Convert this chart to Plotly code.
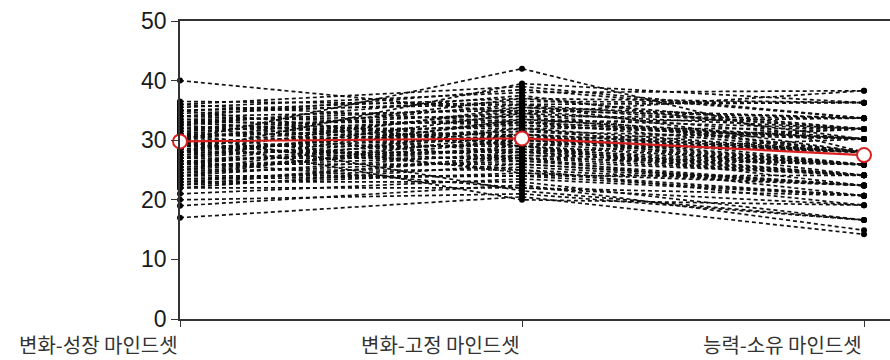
import plotly.graph_objects as go

# Mindset profile scores per respondent (three subscales) and the group mean
categories = ["변화-성장 마인드셋", "변화-고정 마인드셋", "능력-소유 마인드셋"]

growth = [40, 36.5, 36, 35.5, 35, 34.5, 34, 34, 33.5, 33, 33, 32.5, 32, 32, 31.5,
          31, 31, 30.5, 30, 30, 29.5, 29, 29, 28.5, 28, 28, 27.5, 27, 27, 26.5,
          26, 26, 25.5, 25, 25, 24.5, 24, 24, 23.5, 23, 23, 22.5, 22, 22, 21,
          20, 19, 17, 30, 29, 31, 28, 33, 26, 24, 35,
          34, 33.5, 32.5, 31.5, 30.5, 29.5, 28.5, 27.5, 26.5, 25.5, 24.5, 23.5,
          35, 32, 30, 28, 26, 36, 29, 27, 31, 25, 33, 22.5]
fixed = [34.5, 36, 39, 38, 37, 36.5, 35, 38.5, 34, 35.5, 33, 37.5, 32, 34.5, 33.5,
         31, 36, 32.5, 30, 42, 31.5, 29, 33, 30.5, 28, 32, 29.5, 27, 31, 28.5,
         26, 30, 27.5, 25, 29, 26.5, 24, 28, 25.5, 23, 27, 24.5, 22, 26, 23.5,
         21, 22.5, 20.5, 20, 35, 21.5, 39.5, 30, 33.5, 31, 29,
         32.5, 30.5, 29, 27, 34, 25, 31.5, 33, 22, 28.5, 30, 24,
         36, 28, 37, 35.5, 31, 33, 26.5, 34.5, 24.5, 32, 29.5, 27.5]
entity = [38.3, 36.3, 33.7, 38.3, 31.9, 36.3, 30.2, 33.7, 28, 31.9, 33.7, 30.2, 25.9, 28, 31.9,
          24.1, 28, 30.2, 25.9, 28, 30.2, 22.4, 28, 25.9, 24.1, 31.9, 28, 20.7, 25.9, 24.1,
          22.4, 28, 25.9, 19.1, 24.1, 22.4, 20.7, 25.9, 22.4, 16.6, 24.1, 20.7, 19.1, 22.4, 20.7,
          16.6, 14.9, 14.2, 19.1, 33.7, 16.6, 36.3, 31.9, 30.2, 28, 25.9,
          30.2, 28, 31.9, 25.9, 33.7, 22.4, 28, 30.2, 20.7, 25.9, 28, 24.1,
          31.9, 30.2, 36.3, 33.7, 28, 30.2, 24.1, 31.9, 22.4, 28, 25.9, 24.1]
group_mean = [29.8, 30.3, 27.5]

y_ticks = [0, 10, 20, 30, 40, 50]

positions = list(range(len(categories)))

# individual profiles joined into one dashed trace, broken with None
xs, ys = [], []
for a, b, c in zip(growth, fixed, entity):
    xs += positions + [None]
    ys += [a, b, c, None]

fig = go.Figure()
fig.add_trace(go.Scatter(
    x=xs, y=ys, mode="lines+markers",
    line=dict(color="#111111", width=1.7, dash="4px,3px"),
    marker=dict(color="#000000", size=6),
    cliponaxis=False, hoverinfo="skip", showlegend=False,
))
fig.add_trace(go.Scatter(
    x=positions, y=group_mean, mode="lines+markers",
    line=dict(color="#d92020", width=2.2),
    marker=dict(symbol="circle", size=14, color="white",
                line=dict(color="#d92020", width=2)),
    cliponaxis=False, showlegend=False,
))

# category labels sit right-aligned at their ticks
for p, name in zip(positions, categories):
    fig.add_annotation(
        x=p, xref="x", y=0, yref="paper", yshift=-9,
        text=name, showarrow=False, xanchor="right", yanchor="top",
        font=dict(family="Noto Sans CJK KR", size=20, color="#333333"),
    )

fig.update_layout(
    width=890, height=360,
    margin=dict(l=180, r=0, t=21, b=41),
    paper_bgcolor="white", plot_bgcolor="white",
    font=dict(family="Liberation Sans, Arial, sans-serif", color="#1a1a1a"),
)
fig.update_xaxes(
    range=[0, 2.076], tickvals=positions, showticklabels=False,
    showline=True, mirror=True, linecolor="#333333", linewidth=1.5,
    ticks="outside", ticklen=6, tickwidth=1.2, tickcolor="#333333",
    showgrid=False, zeroline=False,
)
fig.update_yaxes(
    range=[0, 50], tickvals=y_ticks,
    showline=True, linecolor="#333333", linewidth=1.5,
    ticks="outside", ticklen=7, tickwidth=1.2, tickcolor="#333333",
    tickfont=dict(size=23, color="#1a1a1a"),
    showgrid=False, zeroline=False,
)

fig.write_html("out.html")
